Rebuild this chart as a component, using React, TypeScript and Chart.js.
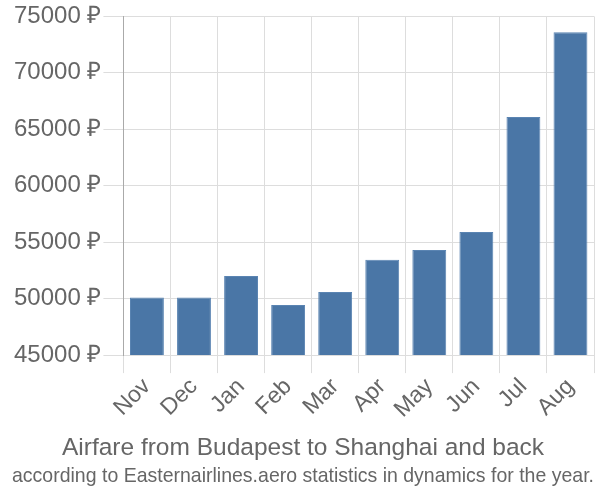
import React, { useEffect, useRef } from "react";
import { Chart, registerables } from "chart.js";

Chart.register(...registerables);

const months = ["Nov", "Dec", "Jan", "Feb", "Mar", "Apr", "May", "Jun", "Jul", "Aug"];
const prices = [50100, 50100, 52000, 49450, 50600, 53450, 54300, 55900, 66100, 73600];
const yMin = 45000;
const yMax = 75000;
const yStep = 5000;
const titleText = "Airfare from Budapest to Shanghai and back";
const subtitleText = "according to Easternairlines.aero statistics in dynamics for the year.";

const FONT = "'Liberation Sans', Arial, sans-serif";

export default function App() {
  const ref = useRef<HTMLCanvasElement | null>(null);
  useEffect(() => {
    if (!ref.current) return;
    const chart = new Chart(ref.current, {
      type: "bar",
      data: {
        labels: months,
        datasets: [
          {
            data: prices,
            backgroundColor: "#4a76a6",
            borderColor: "#5a84b2",
            borderWidth: 1,
            barPercentage: 0.72,
            categoryPercentage: 1,
          },
        ],
      },
      options: {
        animation: false,
        responsive: false,
        maintainAspectRatio: false,
        layout: { padding: { top: 2, right: 6, bottom: 11, left: 12 } },
        plugins: {
          legend: { display: false },
          tooltip: { enabled: false },
          title: {
            display: true,
            text: titleText,
            position: "bottom",
            color: "#666",
            weight: 1000,
            font: { family: FONT, size: 24.5, weight: "normal" },
            padding: { top: 10, bottom: 0 },
          },
          subtitle: {
            display: true,
            text: subtitleText,
            position: "bottom",
            color: "#666",
            weight: 2000,
            font: { family: FONT, size: 20.2, weight: "normal" },
            padding: { top: 2, bottom: 0 },
          },
        },
        scales: {
          x: {
            grid: { color: "#dddddd", tickLength: 18, offset: true },
            border: { color: "#dddddd" },
            ticks: {
              color: "#666",
              font: { family: FONT, size: 23 },
              maxRotation: 45,
              minRotation: 45,
              padding: 0,
            },
          },
          y: {
            min: yMin,
            max: yMax,
            grid: { color: "#dddddd", tickLength: 20 },
            border: { color: "#aaaaaa" },
            ticks: {
              stepSize: yStep,
              color: "#666",
              font: { family: FONT, size: 24 },
              padding: 2,
              callback: (v: any) => `${v} ₽`,
            },
          },
        },
      },
    });
    return () => chart.destroy();
  }, []);
  return (
    <div style={{ position: "fixed", left: 0, top: 0, width: 600, height: 500 }}>
      <canvas ref={ref} width={600} height={500} style={{ width: 600, height: 500 }} />
    </div>
  );
}
